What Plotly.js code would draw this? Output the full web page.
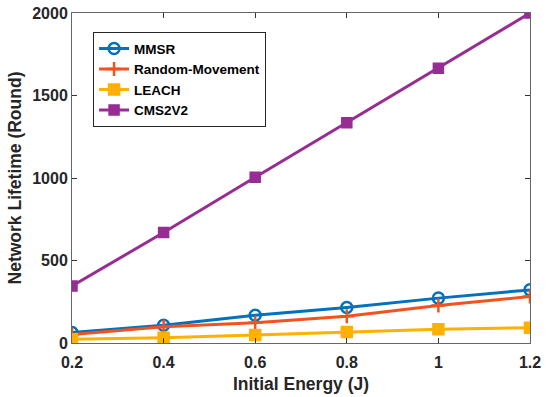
<!DOCTYPE html>
<html><head><meta charset="utf-8">
<script src="https://cdn.plot.ly/plotly-3.0.1.min.js"></script>
<style>html,body{margin:0;padding:0;background:#fff}#chart{width:550px;height:397px}</style>
</head><body><div id="chart"></div>
<script>
const energy = [0.2, 0.4, 0.6, 0.8, 1.0, 1.2];
const mmsr = [63, 108, 168, 215, 272, 322];
const randomMovement = [52, 99, 123, 162, 227, 282];
const leach = [22, 32, 49, 67, 83, 93];
const cms2v2 = [345, 670, 1005, 1335, 1665, 2000];
const xTicks = [0.2, 0.4, 0.6, 0.8, 1, 1.2];
const xTickText = ['0.2', '0.4', '0.6', '0.8', '1', '1.2'];
const yTicks = [0, 500, 1000, 1500, 2000];

const mk = (name, y, color, symbol, size) => ({
  x: energy, y: y, name: name, type: 'scatter', mode: 'lines+markers',
  line: {color: color, width: 3},
  marker: {color: color, symbol: symbol, size: size, line: {color: color, width: 2.5}}
});
const data = [
  mk('MMSR', mmsr, '#0072BD', 'circle-open', 11),
  mk('Random-Movement', randomMovement, '#F4511E', 'cross-thin-open', 10),
  mk('LEACH', leach, '#FFB000', 'square', 10),
  mk('CMS2V2', cms2v2, '#972D94', 'square', 9)
];
const FF = 'Liberation Sans, Arial, sans-serif';
const tickFont = {family: FF, size: 16, color: '#262626', weight: 'bold'};
const titleFont = {family: FF, size: 17.5, color: '#262626', weight: 'bold'};
const layout = {
  width: 550, height: 397,
  margin: {l: 72, r: 20, t: 13, b: 54},
  paper_bgcolor: '#fff', plot_bgcolor: '#fff',
  font: {family: FF, color: '#262626'},
  showlegend: true,
  legend: {x: 0.046, y: 0.942, xanchor: 'left', yanchor: 'top',
    bordercolor: '#262626', borderwidth: 1, bgcolor: '#fff',
    font: {family: FF, size: 13.5, color: '#000', weight: 'bold'},
    tracegroupgap: 0, itemwidth: 30},
  xaxis: {range: [0.2, 1.2], tickvals: xTicks, ticktext: xTickText,
    ticks: 'inside', ticklen: 5, tickcolor: '#333', mirror: 'ticks',
    showline: true, linecolor: '#666', linewidth: 1, showgrid: false, zeroline: false,
    tickfont: tickFont, ticklabelstandoff: 5,
    title: {text: 'Initial Energy (J)', standoff: 7, font: titleFont}},
  yaxis: {range: [0, 2000], tickvals: yTicks,
    ticks: 'inside', ticklen: 5, tickcolor: '#333', mirror: 'ticks',
    showline: true, linecolor: '#666', linewidth: 1, showgrid: false, zeroline: false,
    tickfont: tickFont,
    title: {text: 'Network Lifetime (Round)', standoff: 6, font: titleFont}}
};
Plotly.newPlot('chart', data, layout, {displayModeBar: false, staticPlot: true});
</script></body></html>
